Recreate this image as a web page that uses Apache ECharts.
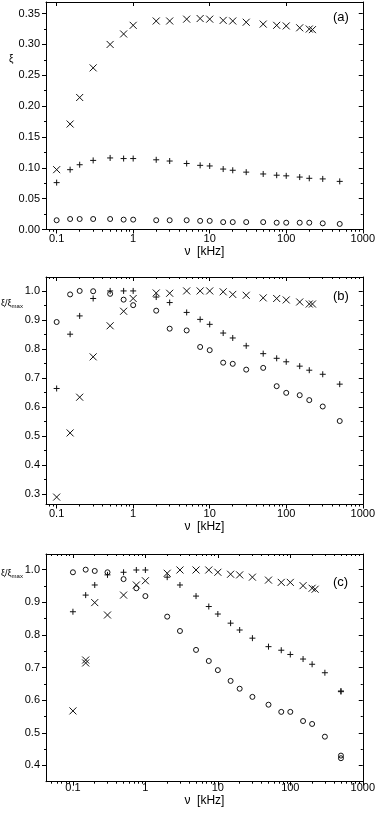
<!DOCTYPE html>
<html><head><meta charset="utf-8">
<script src="https://cdn.jsdelivr.net/npm/echarts@6/dist/echarts.min.js"></script>
<style>html,body{margin:0;padding:0;background:#fff}#c{width:378px;height:814px}</style>
</head><body><div id="c"></div>
<script>
// ---- data ----
const freqAll = [0.1,0.15,0.2,0.3,0.5,0.75,1,2,3,5,7.5,10,15,20,30,50,75,100,150,200,300,500];
const freqCross = [0.1,0.15,0.2,0.3,0.5,0.75,1,2,3,5,7.5,10,15,20,30,50,75,100,150,200,220];
const freqCrossC = [0.1,0.15,0.15,0.2,0.3,0.5,0.75,1,2,3,5,7.5,10,15,20,30,50,75,100,150,200,220];
const freqC = [0.1,0.15,0.2,0.3,0.5,0.75,1,2,3,5,7.5,10,15,20,30,50,75,100,150,200,300,500,500];

// panel (a): xi
const aCross = [0.097,0.171,0.214,0.262,0.300,0.317,0.331,0.338,0.338,0.341,0.342,0.341,0.339,0.338,0.336,0.333,0.331,0.330,0.327,0.325,0.324];
const aPlus = [0.076,0.097,0.105,0.112,0.116,0.115,0.115,0.113,0.111,0.107,0.104,0.103,0.098,0.096,0.093,0.090,0.088,0.087,0.085,0.083,0.082,0.078];
const aCircle = [0.015,0.017,0.017,0.017,0.017,0.016,0.016,0.015,0.015,0.015,0.014,0.014,0.012,0.012,0.012,0.012,0.011,0.011,0.011,0.011,0.010,0.009];

// panel (b): xi/xi_max
const bCross = [0.29,0.511,0.634,0.773,0.88,0.93,0.974,0.993,0.992,1.0,1.0,1.0,0.997,0.988,0.985,0.976,0.974,0.969,0.962,0.955,0.955];
const bPlus = [0.664,0.851,0.914,0.974,1.0,1.0,1.0,0.979,0.96,0.926,0.902,0.885,0.855,0.838,0.811,0.784,0.768,0.756,0.741,0.727,0.713,0.679];
const bCircle = [0.893,0.988,1.0,0.999,0.99,0.97,0.951,0.932,0.87,0.864,0.807,0.796,0.753,0.749,0.729,0.735,0.672,0.649,0.641,0.624,0.602,0.552];

// panel (c): xi/xi_max
const cCross = [0.567,0.723,0.714,0.899,0.861,0.922,0.953,0.966,0.989,0.999,0.999,0.999,0.992,0.986,0.984,0.977,0.968,0.961,0.961,0.951,0.943,0.940];
const cPlus = [0.871,0.922,0.953,0.984,0.992,0.999,0.999,0.977,0.953,0.919,0.887,0.864,0.836,0.815,0.79,0.764,0.753,0.74,0.726,0.71,0.684,0.626,0.628];
const cCircle = [0.992,1.0,0.996,0.992,0.971,0.943,0.919,0.856,0.812,0.754,0.72,0.692,0.659,0.635,0.61,0.586,0.564,0.564,0.536,0.527,0.488,0.43,0.422];

// ticks
const xMajor = [0.1,1,10,100,1000];
const xMinorMults = [2,3,4,5,6,7,8,9];
const yTicksA = [0,0.05,0.1,0.15,0.2,0.25,0.3,0.35];
const yMinorA = [0.025,0.075,0.125,0.175,0.225,0.275,0.325];
const yTicksB = [0.3,0.4,0.5,0.6,0.7,0.8,0.9,1.0];
const yMinorB = [0.35,0.45,0.55,0.65,0.75,0.85,0.95];
const yTicksC = [0.4,0.5,0.6,0.7,0.8,0.9,1.0];
const yMinorC = [0.45,0.55,0.65,0.75,0.85,0.95];

// ---- chart ----
const FONT = '"Liberation Sans", Arial, sans-serif';
const INK = '#111';
const CROSS = 'path://M0,0L10,10M10,0L0,10';
const PLUS = 'path://M5,0L5,10M0,5L10,5';

function minorTicks(min, max) {
  const out = [];
  for (let e = -3; e <= 3; e++) {
    const d = Math.pow(10, e);
    for (const m of xMinorMults) {
      const v = +(m * d).toPrecision(6);
      if (v > min && v < max) out.push(v);
    }
  }
  return out;
}
function zip(xs, ys) { return xs.map((x, i) => [x, ys[i]]); }

const panels = [
  { grid: {left: 46, top: 2, width: 318, height: 227.5}, xMin: 0.0726, xMax: 1000,
    yMin: 0, yMax: 0.3688, yT: yTicksA, yM: yMinorA, yDec: 2, lm: 4, ng: 15,
    s: [[freqCross, aCross, CROSS, 7], [freqAll, aPlus, PLUS, 6], [freqAll, aCircle, 'circle', 5]] },
  { grid: {left: 46, top: 277, width: 318, height: 227.5}, xMin: 0.0726, xMax: 1000,
    yMin: 0.2645, yMax: 1.048, yT: yTicksB, yM: yMinorB, yDec: 1, lm: 4, ng: 14,
    s: [[freqCross, bCross, CROSS, 7], [freqAll, bPlus, PLUS, 6], [freqAll, bCircle, 'circle', 5]] },
  { grid: {left: 46, top: 554, width: 321, height: 227.7}, xMin: 0.0425, xMax: 1000,
    yMin: 0.35, yMax: 1.048, yT: yTicksC, yM: yMinorC, yDec: 1, lm: 1, ng: 9,
    s: [[freqCrossC, cCross, CROSS, 7], [freqC, cPlus, PLUS, 6], [freqC, cCircle, 'circle', 5]] }
];

const lineStyle = {color: '#000', width: 1};
const grid = [], xAxis = [], yAxis = [], series = [];
panels.forEach((p, i) => {
  grid.push(p.grid);
  const xm = minorTicks(p.xMin, p.xMax);
  const xBase = {gridIndex: i, type: 'log', logBase: 10, min: p.xMin, max: p.xMax, splitLine: {show: false}};
  xAxis.push(Object.assign({}, xBase, {position: 'bottom',
    axisLine: {show: true, onZero: false, lineStyle},
    axisTick: {show: true, inside: false, length: 4, customValues: xMajor, lineStyle},
    axisLabel: {show: true, customValues: xMajor, margin: p.lm, fontFamily: FONT, fontSize: 11, color: '#000',
      formatter: v => String(+(+v).toPrecision(6))},
    name: 'ν  [kHz]', nameLocation: 'middle', nameGap: p.ng,
    nameTextStyle: {fontFamily: FONT, fontSize: 12, color: '#000'}}));
  xAxis.push(Object.assign({}, xBase, {position: 'bottom',
    axisLine: {show: false}, axisTick: {show: true, inside: false, length: 2, customValues: xm, lineStyle},
    axisLabel: {show: false}}));
  xAxis.push(Object.assign({}, xBase, {position: 'top',
    axisLine: {show: true, onZero: false, lineStyle},
    axisTick: {show: true, inside: true, length: 4, customValues: xMajor, lineStyle}, axisLabel: {show: false}}));
  xAxis.push(Object.assign({}, xBase, {position: 'top',
    axisLine: {show: false}, axisTick: {show: true, inside: true, length: 2, customValues: xm, lineStyle},
    axisLabel: {show: false}}));

  const yBase = {gridIndex: i, type: 'value', min: p.yMin, max: p.yMax, splitLine: {show: false}};
  yAxis.push(Object.assign({}, yBase, {position: 'left',
    axisLine: {show: true, onZero: false, lineStyle},
    axisTick: {show: true, inside: false, length: 4, customValues: p.yT, lineStyle},
    axisLabel: {show: true, customValues: p.yT, margin: 6, fontFamily: FONT, fontSize: 11, color: '#000',
      formatter: v => (+v).toFixed(p.yDec)}}));
  yAxis.push(Object.assign({}, yBase, {position: 'left',
    axisLine: {show: false}, axisTick: {show: true, inside: false, length: 2, customValues: p.yM, lineStyle},
    axisLabel: {show: false}}));
  yAxis.push(Object.assign({}, yBase, {position: 'right',
    axisLine: {show: true, onZero: false, lineStyle},
    axisTick: {show: true, inside: true, length: 4, customValues: p.yT, lineStyle}, axisLabel: {show: false}}));
  yAxis.push(Object.assign({}, yBase, {position: 'right',
    axisLine: {show: false}, axisTick: {show: true, inside: true, length: 2, customValues: p.yM, lineStyle},
    axisLabel: {show: false}}));

  p.s.forEach(([xs, ys, sym, size]) => {
    series.push({type: 'scatter', xAxisIndex: i * 4, yAxisIndex: i * 4, data: zip(xs, ys),
      symbol: sym, symbolSize: size,
      itemStyle: {color: 'rgba(0,0,0,0)', borderColor: INK, borderWidth: 1, opacity: 1},
      emphasis: {disabled: true}, silent: true});
  });
});

const subLbl = {
  a: {fontFamily: FONT, fontSize: 9, color: '#000'},
  b: {fontFamily: FONT, fontSize: 6, color: '#000', padding: [5, 0, 0, 0]}
};
const graphic = [
  {type: 'text', x: 9, y: 54, style: {text: 'ξ', fontFamily: FONT, fontSize: 10, fill: '#000'}},
  {type: 'text', x: 1, y: 298, style: {text: '{a|ξ/ξ}{b|max}', rich: subLbl}},
  {type: 'text', x: 1, y: 568, style: {text: '{a|ξ/ξ}{b|max}', rich: subLbl}},
  {type: 'text', x: 333, y: 11, style: {text: '(a)', fontFamily: FONT, fontSize: 13, fill: '#000'}},
  {type: 'text', x: 333, y: 290, style: {text: '(b)', fontFamily: FONT, fontSize: 13, fill: '#000'}},
  {type: 'text', x: 333, y: 576, style: {text: '(c)', fontFamily: FONT, fontSize: 13, fill: '#000'}}
];

const chart = echarts.init(document.getElementById('c'), null, {renderer: 'canvas'});
chart.setOption({animation: false, backgroundColor: '#fff', grid, xAxis, yAxis, series, graphic});
</script></body></html>
